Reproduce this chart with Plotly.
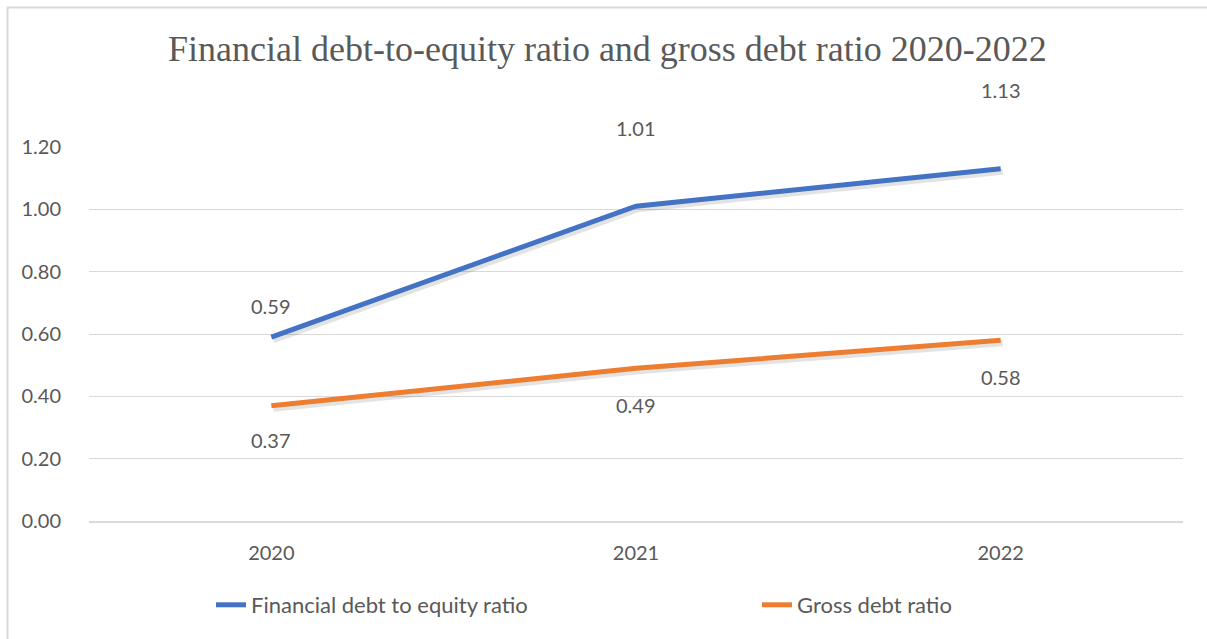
import plotly.graph_objects as go

# Chart data
years = ["2020", "2021", "2022"]
debt_to_equity = [0.59, 1.01, 1.13]
gross_debt = [0.37, 0.49, 0.58]
series_names = ["Financial debt to equity ratio", "Gross debt ratio"]
y_ticks = [0.0, 0.2, 0.4, 0.6, 0.8, 1.0, 1.2]

BLUE = "#4472C4"
ORANGE = "#ED7D31"
TEXT = "#595959"
GRID = "#D9D9D9"
SANS = "Lato, Carlito, Calibri, sans-serif"

# Page and plot-area geometry (pixels)
PAGE_W, PAGE_H = 1207, 639
LEFT, RIGHT_EDGE = 89, 1183
TOP, BOTTOM_EDGE = 147, 521
W = RIGHT_EDGE - LEFT
H = BOTTOM_EDGE - TOP

X_RANGE = [-0.5, 2.5]
Y_RANGE = [0, 1.2]

# drop-shadow offset (px) expressed as a shift of the hidden base axes
SH_X, SH_Y = 2, 3
dx = SH_X * (X_RANGE[1] - X_RANGE[0]) / W
dy = SH_Y * (Y_RANGE[1] - Y_RANGE[0]) / H

fig = go.Figure()

# soft shadows on the hidden base axes
for vals in (debt_to_equity, gross_debt):
    fig.add_trace(go.Scatter(
        x=years, y=vals, mode="lines", xaxis="x", yaxis="y",
        line=dict(color="rgba(0,0,0,0.11)", width=6),
        hoverinfo="skip", showlegend=False,
    ))

# main series on the visible overlay axes, each with its own legend
fig.add_trace(go.Scatter(
    x=years, y=debt_to_equity, mode="lines", name=series_names[0],
    xaxis="x2", yaxis="y2", legend="legend",
    line=dict(color=BLUE, width=5),
))
fig.add_trace(go.Scatter(
    x=years, y=gross_debt, mode="lines", name=series_names[1],
    xaxis="x2", yaxis="y2", legend="legend2",
    line=dict(color=ORANGE, width=5),
))

# value labels
label_shift_blue = [31, 78, 79]
label_shift_orange = [-34, -37, -37]
label_font = dict(family=SANS, size=20, color=TEXT)
annotations = []
for i, (v, s) in enumerate(zip(debt_to_equity, label_shift_blue)):
    annotations.append(dict(x=i, y=v, xref="x2", yref="y2", text=f"{v:.2f}",
                            showarrow=False, yshift=s, font=label_font))
for i, (v, s) in enumerate(zip(gross_debt, label_shift_orange)):
    annotations.append(dict(x=i, y=v, xref="x2", yref="y2", text=f"{v:.2f}",
                            showarrow=False, yshift=s, font=label_font))

annotations.append(dict(
    text="Financial debt-to-equity ratio and gross debt ratio 2020-2022",
    xref="paper", yref="paper", x=(607 - LEFT) / W, y=(BOTTOM_EDGE - 49) / H,
    xanchor="center", yanchor="middle", showarrow=False,
    font=dict(family="Liberation Serif, Times New Roman, serif", size=36, color=TEXT),
))

legend_common = dict(orientation="h", xanchor="left", yanchor="middle",
                     y=(BOTTOM_EDGE - 605) / H,
                     font=dict(family=SANS, size=22, color=TEXT),
                     bgcolor="rgba(0,0,0,0)", borderwidth=0)

fig.update_layout(
    width=PAGE_W, height=PAGE_H,
    margin=dict(l=LEFT, r=PAGE_W - RIGHT_EDGE, t=TOP, b=PAGE_H - BOTTOM_EDGE, pad=0),
    paper_bgcolor="white", plot_bgcolor="white",
    font=dict(family=SANS, size=20, color=TEXT),
    xaxis=dict(type="category", range=[X_RANGE[0] - dx, X_RANGE[1] - dx],
               visible=False, showgrid=False, zeroline=False),
    yaxis=dict(range=[Y_RANGE[0] + dy, Y_RANGE[1] + dy],
               visible=False, showgrid=False, zeroline=False),
    xaxis2=dict(type="category", range=X_RANGE, overlaying="x", anchor="y2",
                side="bottom", showgrid=False, showline=True, linecolor=GRID,
                linewidth=2, ticks="", ticklabelstandoff=13,
                tickfont=dict(family=SANS, size=20, color=TEXT), zeroline=False),
    yaxis2=dict(range=Y_RANGE, overlaying="y", anchor="x2", side="left",
                tickvals=y_ticks, tickformat=".2f", showgrid=True,
                gridcolor=GRID, gridwidth=1, zeroline=False, showline=False,
                ticks="", ticklabelstandoff=27,
                tickfont=dict(family=SANS, size=20, color=TEXT)),
    showlegend=True,
    legend=dict(legend_common, x=(211 - LEFT) / W),
    legend2=dict(legend_common, x=(757 - LEFT) / W),
    annotations=annotations,
    shapes=[dict(type="rect", xref="paper", yref="paper",
                 x0=(7.5 - LEFT) / W, x1=(PAGE_W + 20 - LEFT) / W,
                 y0=(BOTTOM_EDGE - PAGE_H - 20) / H, y1=(BOTTOM_EDGE - 7.5) / H,
                 line=dict(color=GRID, width=2), layer="below")],
)

fig.write_html("out.html")
